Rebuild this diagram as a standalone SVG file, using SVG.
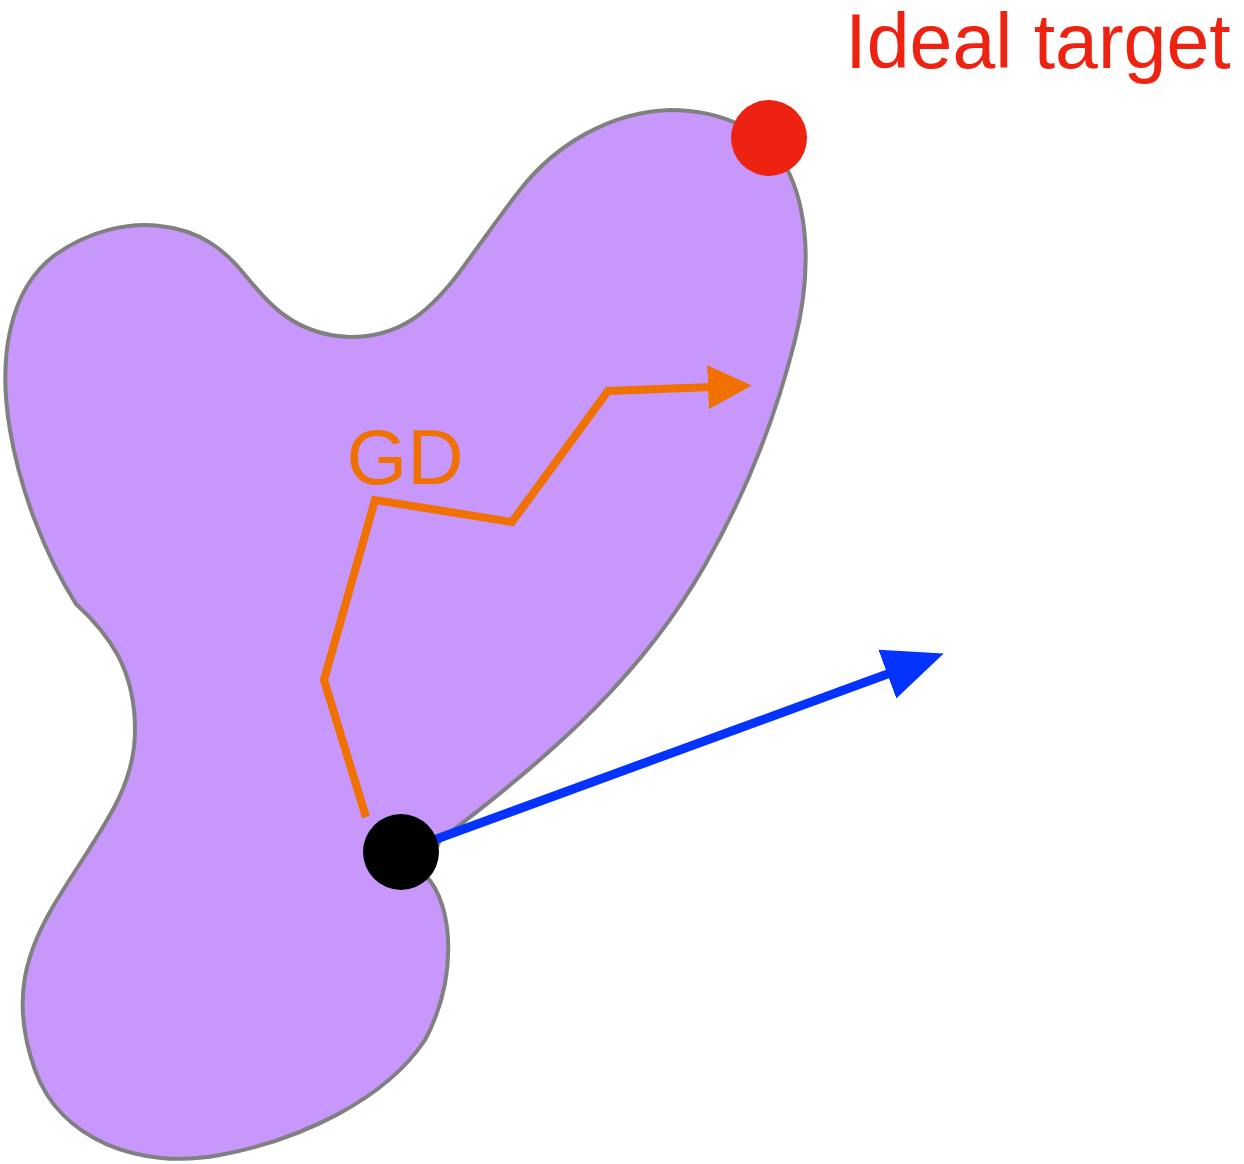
<svg xmlns="http://www.w3.org/2000/svg" width="1244" height="1164" viewBox="0 0 1244 1164">
<style>
.lbl{font-family:"Liberation Sans",Arial,sans-serif}
</style>
<defs>
<marker id="ao" markerUnits="userSpaceOnUse" viewBox="0 0 44 44" refX="4" refY="22" markerWidth="44" markerHeight="44" orient="auto"><path d="M0,0 L44,22 L0,44 Z" fill="#F07100"/></marker>
<marker id="ab" markerUnits="userSpaceOnUse" viewBox="0 0 60 52" refX="6" refY="26" markerWidth="60" markerHeight="52" orient="auto"><path d="M0,0 L60,26 L0,52 Z" fill="#0433FF"/></marker>
</defs>
<g id="region">
<path d="M76 604 C45 555 20 490 10 430 C-2 360 8 290 55 255 C90 230 130 222 160 226 C200 230 225 250 245 275 C270 305 295 335 350 337 C400 337 428 312 455 278 C480 245 500 215 520 190 C555 145 610 112 670 110 C720 110 770 130 790 175 C810 220 810 280 795 340 C775 420 745 495 705 565 C645 670 560 750 440 840 L425 875 C455 905 457 980 425 1040 C385 1100 300 1140 220 1155 C140 1170 60 1140 35 1070 C10 1000 25 950 60 895 C100 830 135 790 135 730 C135 670 110 635 76 604 Z" fill="#C797FC" stroke="#808080" stroke-width="4"/>
</g>
<g id="connectors">
<polyline points="366,817 324,680 375,500 512,522 608,391 712,387" fill="none" stroke="#F07100" stroke-width="8" marker-end="url(#ao)"/>
<line x1="401" y1="852" x2="893" y2="672" stroke="#0433FF" stroke-width="9" marker-end="url(#ab)"/>
</g>
<g id="gd-label"><text class="lbl" x="405" y="484" font-size="78" fill="#F07100" text-anchor="middle">GD</text></g>
<g id="start"><circle cx="401" cy="852" r="38" fill="#000"/></g>
<g id="target"><circle cx="769" cy="138" r="38" fill="#EE2211"/></g>
<g id="target-label"><text class="lbl" x="1038" y="68" font-size="77" fill="#EE2211" text-anchor="middle">Ideal target</text></g>
</svg>
